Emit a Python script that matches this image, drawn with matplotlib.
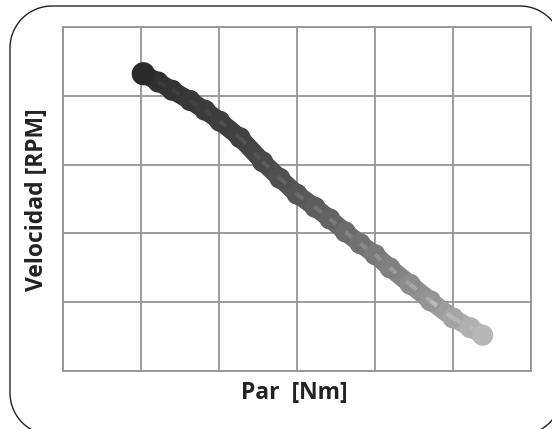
import numpy as np
import matplotlib.pyplot as plt
from matplotlib.collections import LineCollection
from matplotlib.colors import LinearSegmentedColormap
from matplotlib.patches import PathPatch
from matplotlib.path import Path

# torque (Par) and speed (Velocidad) read along the band, in grid units
par = [1.03, 1.22, 1.40, 1.63, 1.82, 2.01, 2.27, 2.56, 2.78, 3.00, 3.23,
       3.42, 3.62, 3.81, 4.00, 4.19, 4.45, 4.71, 5.00, 5.22, 5.38]
velocidad = [4.32, 4.20, 4.08, 3.93, 3.79, 3.63, 3.39, 3.04, 2.80, 2.57, 2.38,
             2.21, 2.02, 1.85, 1.69, 1.50, 1.26, 1.02, 0.77, 0.63, 0.52]


def rounded_rect(x0, y0, x1, y1, r, n=20):
    # outline of a rounded rectangle, corners as arcs
    verts = []
    corners = [(x1 - r, y1 - r, 0), (x0 + r, y1 - r, 90),
               (x0 + r, y0 + r, 180), (x1 - r, y0 + r, 270)]
    for cx, cy, a0 in corners:
        ang = np.radians(np.linspace(a0, a0 + 90, n))
        verts += list(zip(cx + r * np.cos(ang), cy + r * np.sin(ang)))
    verts.append(verts[0])
    return Path(verts)


fig = plt.figure(figsize=(5.52, 4.29), dpi=100)
fig.patch.set_facecolor('white')

# rounded frame around the chart (right and bottom edges fall off the image)
frame = PathPatch(rounded_rect(0.10, -0.06, 5.62, 4.23, 0.42),
                  transform=fig.dpi_scale_trans, fill=False,
                  edgecolor='#222222', linewidth=1.0)
fig.add_artist(frame)

ax = fig.add_axes([0.1141, 0.1352, 0.848, 0.802])
ax.set_xlim(0, 6)
ax.set_ylim(0, 5)
ax.set_xticks(np.arange(0, 7, 1))
ax.set_yticks(np.arange(0, 6, 1))
ax.tick_params(length=0, labelbottom=False, labelleft=False)
ax.grid(True, color='#959595', linewidth=1.3)
ax.set_axisbelow(True)
for s in ax.spines.values():
    s.set_color('#959595')
    s.set_linewidth(1.3)

cmap = LinearSegmentedColormap.from_list(
    'band', [(0, '#2e2e2e'), (0.3, '#434343'), (0.5, '#5c5c5c'),
             (0.7, '#7c7c7c'), (0.85, '#959595'), (1.0, '#b8b8b8')])
x = np.array(par)
y = np.array(velocidad)
t_pts = (x - x.min()) / (x.max() - x.min())
pts = np.column_stack([x, y]).reshape(-1, 1, 2)
segs = np.concatenate([pts[:-1], pts[1:]], axis=1)
t_seg = (t_pts[:-1] + t_pts[1:]) / 2
lc = LineCollection(segs, colors=cmap(t_seg), linewidths=13, capstyle='round')
ax.add_collection(lc)
ax.scatter(x, y, s=230, c=cmap(t_pts), edgecolors='none', zorder=3)
# lighter speckle running through the band
lc2 = LineCollection(segs, colors=cmap(np.clip(t_seg + 0.12, 0, 1)),
                     linewidths=3, linestyles=(0, (2, 3)), zorder=4)
ax.add_collection(lc2)
ax.scatter(x[:1], y[:1], s=280, color='#2a2a2a', edgecolors='none', zorder=5)

fig.text(0.534, 0.083, 'Par  [Nm]', ha='center', va='center',
         fontsize=16.5, fontweight='bold', family='Open Sans', color='#222222')
fig.text(0.067, 0.535, 'Velocidad [RPM]', ha='center', va='center', rotation=90,
         fontsize=16.5, fontweight='bold', family='Open Sans', color='#222222')

fig.savefig('out.png', dpi=100)
